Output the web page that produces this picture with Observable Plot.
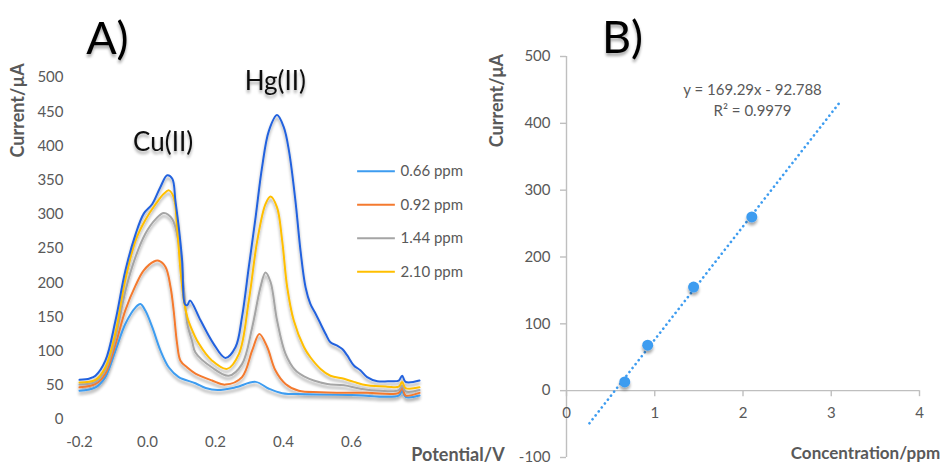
<!DOCTYPE html>
<html>
<head>
<meta charset="utf-8">
<script src="https://cdn.jsdelivr.net/npm/d3@7"></script>
<script src="https://cdn.jsdelivr.net/npm/@observablehq/plot@0.6"></script>
<style>
  html, body { margin: 0; padding: 0; background: #fff; }
  #wrap { position: relative; width: 941px; height: 466px; overflow: hidden; background: #fff; }
  #wrap svg { position: absolute; top: 0; overflow: visible; }
</style>
</head>
<body>
<div id="wrap"></div>
<script>
// ---------- Panel A data ----------
const potentialTicks = [-0.2, 0.0, 0.2, 0.4, 0.6];
const currentTicksA = [0, 50, 100, 150, 200, 250, 300, 350, 400, 450, 500];
const seriesNames = ["0.66 ppm", "0.92 ppm", "1.44 ppm", "2.10 ppm", "extra"];
const seriesColors = ["#3d9cf0", "#f47a2f", "#a5a5a5", "#ffbf00", "#2462de"];

const curve066 = [[-0.2,42],[-0.153,47],[-0.124,62],[-0.094,101],[-0.065,140],[-0.035,164],[-0.021,169],[-0.006,159],[0.014,135],[0.038,101],[0.063,76],[0.092,62],[0.141,53],[0.171,46],[0.206,43],[0.259,47],[0.318,55],[0.357,45],[0.396,38.5],[0.465,37],[0.6,36],[0.739,35],[0.749,42],[0.759,33],[0.8,35]];
const curve092 = [[-0.2,47],[-0.153,52],[-0.124,67],[-0.094,110],[-0.065,160],[-0.035,196],[-0.011,218],[0.019,231],[0.033,232],[0.053,223],[0.068,193],[0.077,159],[0.087,111],[0.097,86],[0.117,76],[0.141,67],[0.190,57],[0.229,51],[0.278,62],[0.308,101],[0.329,125],[0.352,106],[0.376,72],[0.406,52],[0.445,42],[0.509,40],[0.646,39],[0.739,39],[0.749,47],[0.759,35],[0.8,39]];
const curve144 = [[-0.2,51],[-0.153,55],[-0.124,72],[-0.094,120],[-0.065,188],[-0.035,238],[-0.006,272],[0.024,293],[0.048,302],[0.073,293],[0.092,257],[0.107,193],[0.117,140],[0.131,115],[0.141,98],[0.190,76],[0.239,64],[0.278,81],[0.308,135],[0.332,193],[0.347,215],[0.362,201],[0.381,145],[0.406,96],[0.435,72],[0.465,62],[0.489,57],[0.529,52],[0.578,50],[0.626,45],[0.685,42],[0.739,43],[0.749,50],[0.759,41],[0.8,43]];
const curve210 = [[-0.2,54],[-0.153,58],[-0.124,76],[-0.094,128],[-0.065,205],[-0.035,262],[-0.006,292],[0.024,315],[0.048,330],[0.063,335],[0.077,325],[0.087,281],[0.097,218],[0.107,174],[0.117,150],[0.126,137],[0.151,111],[0.190,86],[0.234,74],[0.269,96],[0.298,174],[0.323,262],[0.347,315],[0.362,326],[0.381,310],[0.396,262],[0.411,193],[0.430,145],[0.460,106],[0.479,91],[0.509,74],[0.538,64],[0.578,59.5],[0.607,55],[0.646,50],[0.705,48],[0.739,48],[0.749,55],[0.759,46],[0.8,47]];
const curveExtra = [[-0.2,58],[-0.17,60],[-0.153,64],[-0.124,86],[-0.094,145],[-0.065,218],[-0.035,271],[-0.011,301],[0.014,315],[0.038,340],[0.058,357],[0.073,352],[0.082,320],[0.092,281],[0.102,232],[0.110,169],[0.117,167],[0.125,174],[0.156,145],[0.194,111],[0.229,90],[0.259,106],[0.278,150],[0.298,223],[0.318,296],[0.337,369],[0.357,422],[0.381,445],[0.401,427],[0.416,393],[0.435,320],[0.45,247],[0.465,193],[0.479,169],[0.494,155],[0.509,140],[0.524,125],[0.538,113],[0.558,108],[0.573,103],[0.587,94],[0.607,79],[0.626,72],[0.646,62],[0.676,56],[0.715,56],[0.739,57],[0.749,64],[0.759,55],[0.8,57]];

// ---------- Panel B data ----------
const concTicks = [0, 1, 2, 3, 4];
const currentTicksB = [-100, 0, 100, 200, 300, 400, 500];
const concentrations = [0.66, 0.92, 1.44, 2.10];
const peakCurrents = [13, 68, 155, 260];
const slope = 169.29, intercept = -92.788, rSquared = 0.9979;
const trendRange = [0.26, 3.1];

// ---------- build tables ----------
const curves = [curve066, curve092, curve144, curve210, curveExtra];
const rows = curves.flatMap((c, i) => c.map(([v, cur]) => ({series: seriesNames[i], v, cur})));
const legendItems = seriesNames.slice(0, 4).map((name, i) => ({name, row: i}));
const points = concentrations.map((c, i) => ({c, cur: peakCurrents[i]}));
const trend = trendRange.map(c => ({c, cur: slope * c + intercept}));

const FONT = "Lato, 'Open Sans', sans-serif";
const TICK = "#595959";
const wrap = document.getElementById("wrap");

function addShadow(svg, id) {
  const s = d3.select(svg);
  const f = s.insert("defs", ":first-child").append("filter").attr("id", id)
    .attr("x", "-10%").attr("y", "-10%").attr("width", "120%").attr("height", "130%");
  f.append("feGaussianBlur").attr("in", "SourceAlpha").attr("stdDeviation", 1.6);
  f.append("feOffset").attr("dx", 0).attr("dy", 2.5).attr("result", "o");
  f.append("feComponentTransfer").append("feFuncA").attr("type", "linear").attr("slope", 0.35);
  const m = f.append("feMerge");
  m.append("feMergeNode");
  m.append("feMergeNode").attr("in", "SourceGraphic");
}

// ---------- Panel A ----------
const legendTop = 363, legendStep = 49;
const plotA = Plot.plot({
  width: 520, height: 466,
  marginLeft: 79, marginRight: 101, marginTop: 77, marginBottom: 47,
  style: {fontFamily: FONT, background: "transparent", overflow: "visible"},
  x: {domain: [-0.2, 0.8], axis: null},
  y: {domain: [0, 500], axis: null},
  color: {domain: seriesNames, range: seriesColors},
  marks: [
    Plot.text(currentTicksA, {y: d => d, frameAnchor: "left", dx: -16, textAnchor: "end", lineAnchor: "middle", fontSize: 15, fill: TICK}),
    Plot.text(potentialTicks, {x: d => d, frameAnchor: "bottom", dy: 23, textAnchor: "middle", lineAnchor: "middle", text: d => d.toFixed(1), fontSize: 15, fill: TICK}),
    Plot.line(rows, {x: "v", y: "cur", z: "series", stroke: "series", strokeWidth: 2, curve: "catmull-rom"}),
    Plot.ruleY(legendItems, {y: d => legendTop - d.row * legendStep, x1: 0.618, x2: 0.729, stroke: d => d.name, strokeWidth: 2}),
    Plot.text(legendItems, {y: d => legendTop - d.row * legendStep, x: 0.744, text: "name", textAnchor: "start", lineAnchor: "middle", fontSize: 15, fill: TICK}),
    Plot.text(["Cu(II)"], {x: 0.046, y: 393, textAnchor: "middle", lineAnchor: "bottom", fontSize: 26, fill: "#111"}),
    Plot.text(["Hg(II)"], {x: 0.376, y: 482, textAnchor: "middle", lineAnchor: "bottom", fontSize: 26, fill: "#111"}),
    Plot.text(["A)"], {x: -0.118, y: 535, textAnchor: "middle", lineAnchor: "bottom", fontSize: 45, fill: "#000"}),
    Plot.text(["Current/µA"], {x: -0.379, y: 452, rotate: -90, textAnchor: "middle", lineAnchor: "middle", fontSize: 18, fontWeight: "bold", fill: TICK}),
    Plot.text(["Potential/V"], {x: 0.776, y: -60, textAnchor: "start", lineAnchor: "bottom", fontSize: 18, fontWeight: "bold", fill: TICK})
  ]
});
plotA.style.left = "0px";
wrap.appendChild(plotA);
addShadow(plotA, "shA");
d3.select(plotA).selectAll('g[aria-label="line"]').attr("filter", "url(#shA)");
d3.select(plotA).selectAll('g[aria-label="text"]').filter(function() { return /A\)|Cu|Hg/.test(this.textContent) && this.textContent.length < 8; }).attr("filter", "url(#shA)");

// ---------- Panel B ----------
const AX = "#bfbfbf";
const plotB = Plot.plot({
  width: 461, height: 466,
  marginLeft: 86, marginRight: 22, marginTop: 56, marginBottom: 9,
  style: {fontFamily: FONT, background: "transparent", overflow: "visible"},
  x: {domain: [0, 4], axis: null},
  y: {domain: [-100, 500], axis: null},
  marks: [
    Plot.ruleX([0], {y1: -100, y2: 500, stroke: AX, strokeWidth: 1.4}),
    Plot.ruleY([0], {x1: 0, x2: 4, stroke: AX, strokeWidth: 1.4}),
    Plot.ruleY(currentTicksB, {x1: 0, x2: 0, insetLeft: -6, stroke: AX, strokeWidth: 1.4}),
    Plot.ruleX(concTicks, {y1: 0, y2: -9, stroke: AX, strokeWidth: 1.4}),
    Plot.text(currentTicksB, {y: d => d, frameAnchor: "left", dx: -16, textAnchor: "end", lineAnchor: "middle", fontSize: 15, fill: TICK}),
    Plot.text(concTicks, {x: d => d, y: 0, dy: 23, textAnchor: "middle", lineAnchor: "middle", fontSize: 15, fill: TICK}),
    Plot.line(trend, {x: "c", y: "cur", stroke: "#3d9cf0", strokeWidth: 2.6, strokeDasharray: "0.1,4.9", strokeLinecap: "round"}),
    Plot.dot(points, {x: "c", y: "cur", r: 5.5, fill: "#3d9cf0"}),
    Plot.text([`y = ${slope}x - ${Math.abs(intercept)}`], {x: 2.108, y: 449, textAnchor: "middle", lineAnchor: "middle", fontSize: 15, fill: TICK}),
    Plot.text([`R² = ${rSquared}`], {x: 2.108, y: 418, textAnchor: "middle", lineAnchor: "middle", fontSize: 15, fill: TICK}),
    Plot.text(["B)"], {x: 0.635, y: 505, textAnchor: "middle", lineAnchor: "bottom", fontSize: 45, fill: "#000"}),
    Plot.text(["Current/μA"], {x: -0.782, y: 434, rotate: -90, textAnchor: "middle", lineAnchor: "middle", fontSize: 18, fontWeight: "bold", fill: TICK}),
    Plot.text(["Concentration/ppm"], {x: 4.2, y: -102, dx: 3, textAnchor: "end", lineAnchor: "bottom", fontSize: 17, fontWeight: "bold", fill: TICK})
  ]
});
plotB.style.left = "480px";
wrap.appendChild(plotB);
addShadow(plotB, "shB");
d3.select(plotB).selectAll('g[aria-label="dot"]').attr("filter", "url(#shB)");
d3.select(plotB).selectAll('g[aria-label="text"]').filter(function() { return this.textContent === "B)"; }).attr("filter", "url(#shB)");
</script>
</body>
</html>
